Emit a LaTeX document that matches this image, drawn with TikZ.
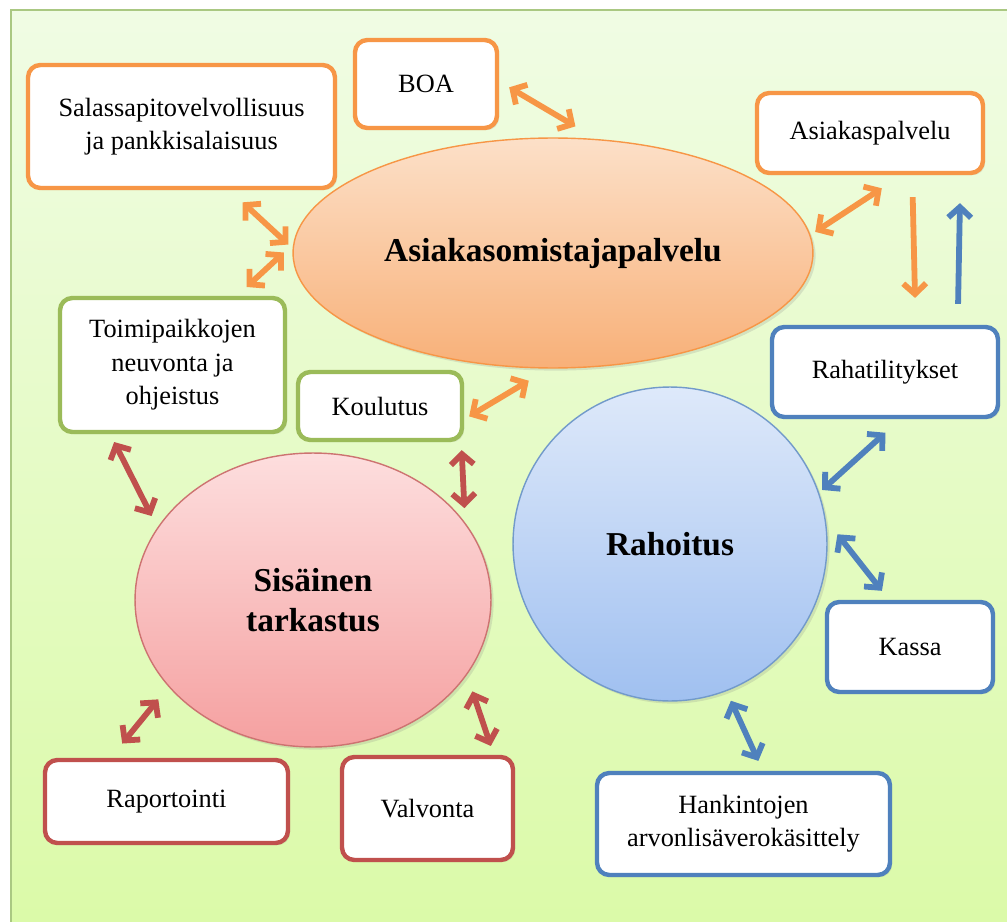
\documentclass[tikz,border=0pt]{standalone}
\usepackage{fontspec}
\setmainfont{Liberation Serif}
\usetikzlibrary{shapes.geometric,arrows.meta,shadows}

\definecolor{orangeA}{RGB}{247,150,70}
\definecolor{greenA}{RGB}{155,187,89}
\definecolor{blueA}{RGB}{79,129,189}
\definecolor{redA}{RGB}{192,80,77}
\definecolor{bgtop}{RGB}{240,252,228}
\definecolor{bgbot}{RGB}{219,250,168}
\definecolor{frameA}{RGB}{170,200,130}

\begin{document}
\begin{tikzpicture}[x=0.02cm, y=-0.02cm,
	box/.style={rectangle, rounded corners=7pt, fill=white, line width=2.5pt, align=center, inner sep=2pt, font=\fontsize{15}{19}\selectfont, drop shadow={opacity=0.18, shadow xshift=1.2pt, shadow yshift=-1.2pt}},
	obox/.style={box, draw=orangeA},
	gbox/.style={box, draw=greenA},
	bbox/.style={box, draw=blueA},
	rbox/.style={box, draw=redA},
	blob/.style={align=center, line width=0.8pt, inner sep=0pt, font=\bfseries\fontsize{19}{23}\selectfont, drop shadow={opacity=0.2, shadow xshift=1.5pt, shadow yshift=-1.5pt}},
	arr/.style={line width=3.3pt, {Straight Barb[length=6pt,width=13pt]}-{Straight Barb[length=6pt,width=13pt]}},
	oarr/.style={arr, draw=orangeA},
	barr/.style={arr, draw=blueA},
	rarr/.style={arr, draw=redA},
	onearr/.style={line width=3.3pt, -{Straight Barb[length=6pt,width=13pt]}}
]

\useasboundingbox (0,0) rectangle (1007,922);

% background
\shade[top color=bgtop, bottom color=bgbot, draw=frameA, line width=1.2pt] (11,10) rectangle (1015,930);

% main shapes
\node[blob, ellipse, draw=orangeA, top color={rgb,255:red,252;green,224;blue,200}, bottom color={rgb,255:red,248;green,176;blue,120}, minimum width=10.4cm, minimum height=4.6cm] (aop) at (553,253) {Asiakasomistajapalvelu};
\node[blob, circle, draw=blueA!80, top color={rgb,255:red,222;green,233;blue,250}, bottom color={rgb,255:red,160;green,192;blue,240}, minimum size=6.28cm] (rahoitus) at (670,544) {Rahoitus};
\node[blob, ellipse, draw=redA!80, top color={rgb,255:red,253;green,222;blue,222}, bottom color={rgb,255:red,245;green,160;blue,160}, minimum width=7.12cm, minimum height=5.88cm] (sis) at (313,600) {Sisäinen\\tarkastus};

% orange boxes
\node[obox, minimum width=6.14cm, minimum height=2.46cm] (sala) at (181.5,126.5) {Salassapitovelvollisuus\\ja pankkisalaisuus};
\node[obox, minimum width=2.84cm, minimum height=1.76cm] (boa) at (426,84) {BOA};
\node[obox, minimum width=4.52cm, minimum height=1.6cm] (akp) at (870,133) {Asiakaspalvelu};

% green boxes
\node[gbox, minimum width=4.5cm, minimum height=2.68cm] (toimi) at (172.5,365) {Toimipaikkojen\\neuvonta ja\\ohjeistus};
\node[gbox, minimum width=3.28cm, minimum height=1.36cm] (koul) at (380,406) {Koulutus};

% blue boxes
\node[bbox, minimum width=4.52cm, minimum height=1.8cm] (raha) at (885,372) {Rahatilitykset};
\node[bbox, minimum width=3.32cm, minimum height=1.8cm] (kassa) at (910,647) {Kassa};
\node[bbox, minimum width=5.86cm, minimum height=2.04cm] (hank) at (743.5,824) {Hankintojen\\arvonlisäverokäsittely};

% red boxes
\node[rbox, minimum width=4.86cm, minimum height=1.66cm] (rap) at (166.5,801.5) {Raportointi};
\node[rbox, minimum width=3.42cm, minimum height=2.06cm] (valv) at (427.5,808.5) {Valvonta};

% orange arrows
\draw[oarr, shorten <=10.2pt, shorten >=3.3pt] (sala.-53) -- (aop.179);
\draw[oarr, shorten <=7.4pt, shorten >=7.2pt] (toimi.47) -- (aop.178);
\draw[oarr, shorten <=6.6pt, shorten >=14.1pt] (boa.2) -- (aop.69);
\draw[oarr, shorten <=3.2pt, shorten >=13.6pt] (aop.4) -- (akp.-53);
\draw[oarr, shorten <=3.3pt, shorten >=13.4pt] (koul.-9) -- (aop.-92);
\draw[onearr, draw=orangeA, shorten <=12.5pt, shorten >=15.3pt] (akp.-45) -- (raha.57);

% blue arrows
\draw[onearr, draw=blueA, shorten <=11.9pt, shorten >=15.9pt] (raha.33) -- (akp.-25);
\draw[barr, shorten <=2.3pt, shorten >=11.5pt] (rahoitus.19) -- (raha.-72);
\draw[barr, shorten <=10.8pt, shorten >=6.5pt] (rahoitus.9) -- (kassa.114);
\draw[barr, shorten <=6pt, shorten >=6.2pt] (rahoitus.-69) -- (hank.70);

% red arrows
\draw[rarr, shorten <=5pt, shorten >=7.3pt] (toimi.-132) -- (sis.155);
\draw[rarr, shorten <=4.5pt, shorten >=8.2pt] (koul.-24) -- (sis.27);
\draw[rarr, shorten <=10.5pt, shorten >=9.2pt] (rap.142) -- (sis.-149);
\draw[rarr, shorten <=9.8pt, shorten >=5.3pt] (sis.-26) -- (valv.39);

\end{tikzpicture}
\end{document}
